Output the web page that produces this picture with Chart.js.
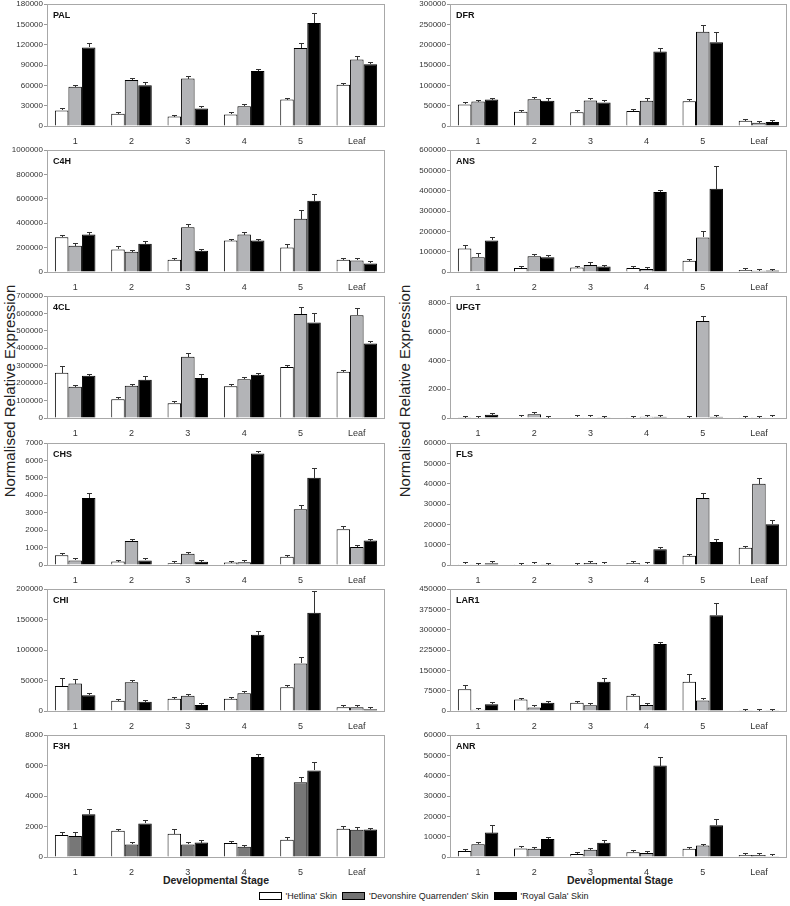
<!DOCTYPE html>
<html>
<head>
<meta charset="utf-8">
<script src="https://cdn.jsdelivr.net/npm/chart.js@4"></script>
<style>
  body { margin: 0; background: #fff; width: 790px; height: 906px; position: relative; overflow: hidden;
         font-family: "Liberation Sans", Arial, sans-serif; }
  canvas { position: absolute; }
  .ytitle { position: absolute; width: 260px; height: 18px; line-height: 18px; text-align: center;
            font-size: 15px; color: #222; transform: rotate(-90deg); white-space: nowrap; }
  .xtitle { position: absolute; width: 200px; text-align: center; font-size: 10.5px; font-weight: bold; color: #222; }
  .legend { position: absolute; top: 891px; left: 0; width: 842px; display: flex; justify-content: center;
            align-items: center; font-size: 9px; color: #222; }
  .legend span.box { display: inline-block; width: 21px; height: 6px; border: 1px solid #000; margin: 0 4px 0 5px; }
</style>
</head>
<body>

<div class="ytitle" style="left:-120px; top:382px;">Normalised Relative Expression</div>
<div class="ytitle" style="left:275px; top:382px;">Normalised Relative Expression</div>
<div class="xtitle" style="left:116px; top:874px;">Developmental Stage</div>
<div class="xtitle" style="left:520px; top:874px;">Developmental Stage</div>
<div class="legend">
  <span class="box" style="background:#fff"></span>'Hetlina' Skin
  <span class="box" style="background:#727272"></span>'Devonshire Quarrenden' Skin
  <span class="box" style="background:#000"></span>'Royal Gala' Skin
</div>

<script>
const stages = ['1', '2', '3', '4', '5', 'Leaf'];
const cultivars = ["'Hetlina' Skin", "'Devonshire Quarrenden' Skin", "'Royal Gala' Skin"];

// rows: Hetlina, Devonshire Quarrenden, Royal Gala
const palMean = [
  [23000, 18000, 14000, 17000, 39000, 61000],
  [58000, 68000, 70000, 29000, 115000, 98000],
  [116000, 60000, 26000, 81000, 152000, 91000]
];
const palErr = [
  [3500, 1000, 2000, 2500, 2000, 2500],
  [2500, 2500, 3500, 800, 7500, 6000],
  [7000, 5500, 3000, 2500, 15000, 3500]
];

const dfrMean = [
  [53000, 35000, 34000, 37000, 61000, 13000],
  [60000, 66000, 63000, 62000, 232000, 8000],
  [65000, 62000, 58000, 183000, 206000, 10000]
];
const dfrErr = [
  [7000, 2000, 5000, 2000, 3000, 500],
  [4000, 3000, 5000, 6000, 17000, 500],
  [5000, 6000, 5000, 8000, 24000, 500]
];

const c4hMean = [
  [285000, 185000, 100000, 258000, 200000, 100000],
  [215000, 165000, 367000, 307000, 437000, 95000],
  [307000, 232000, 175000, 258000, 585000, 70000]
];
const c4hErr = [
  [15000, 25000, 12000, 15000, 30000, 3000],
  [20000, 8000, 30000, 22000, 70000, 10000],
  [20000, 22000, 12000, 10000, 55000, 3000]
];

const ansMean = [
  [115000, 20000, 22000, 20000, 55000, 10000],
  [73000, 78000, 35000, 15000, 170000, 6000],
  [155000, 72000, 27000, 393000, 410000, 7000]
];
const ansErr = [
  [20000, 3000, 3000, 2000, 8000, 1000],
  [20000, 2000, 12000, 3000, 33000, 1000],
  [15000, 10000, 2000, 8000, 112000, 1000]
];

const c4lMean = [
  [260000, 108000, 85000, 182000, 293000, 265000],
  [180000, 185000, 352000, 222000, 597000, 590000],
  [242000, 220000, 230000, 248000, 548000, 428000]
];
const c4lErr = [
  [38000, 8000, 12000, 15000, 12000, 4000],
  [10000, 8000, 20000, 12000, 38000, 40000],
  [12000, 22000, 22000, 5000, 52000, 15000]
];

const ufgtMean = [
  [20, 40, 60, 10, 30, 10],
  [30, 260, 40, 90, 6750, 10],
  [230, 30, 15, 80, 80, 40]
];
const ufgtErr = [
  [5, 10, 10, 5, 5, 3],
  [5, 30, 10, 15, 350, 3],
  [40, 5, 5, 10, 10, 5]
];

const chsMean = [
  [560, 200, 100, 140, 480, 2050],
  [260, 1380, 650, 160, 3200, 1030],
  [3850, 260, 180, 6400, 5000, 1400]
];
const chsErr = [
  [80, 40, 20, 20, 40, 180],
  [30, 130, 30, 20, 220, 130],
  [300, 30, 50, 100, 570, 120]
];

const flsMean = [
  [400, 100, 200, 1000, 4500, 8500],
  [100, 300, 1000, 400, 33000, 40000],
  [900, 100, 300, 7800, 11300, 20000]
];
const flsErr = [
  [100, 50, 50, 200, 300, 400],
  [50, 100, 200, 50, 2500, 3000],
  [150, 50, 50, 300, 1500, 2300]
];

const chiMean = [
  [41000, 17000, 20000, 20000, 39000, 6000],
  [45000, 47000, 25000, 29000, 78000, 6000],
  [26000, 15000, 10000, 125000, 161000, 3000]
];
const chiErr = [
  [13000, 1000, 2000, 2500, 2500, 300],
  [7000, 3000, 1000, 3500, 11000, 300],
  [3000, 1500, 1000, 6000, 36000, 300]
];

const lar1Mean = [
  [80000, 42000, 30000, 56000, 108000, 1000],
  [5000, 13000, 21000, 22000, 39000, 500],
  [25000, 30000, 108000, 247000, 353000, 500]
];
const lar1Err = [
  [17000, 3000, 4000, 4000, 27000, 200],
  [1000, 1000, 2000, 3000, 3000, 100],
  [2000, 3000, 12000, 4000, 45000, 100]
];

const f3hMean = [
  [1450, 1720, 1530, 920, 1130, 1850],
  [1380, 820, 820, 680, 4900, 1780],
  [2800, 2200, 950, 6550, 5680, 1800]
];
const f3hErr = [
  [200, 120, 300, 120, 180, 170],
  [280, 150, 50, 80, 350, 170],
  [350, 250, 150, 180, 560, 100]
];

const anrMean = [
  [3000, 4200, 1500, 2300, 4000, 1000],
  [6300, 4100, 3600, 2000, 5600, 1000],
  [12000, 8800, 7000, 45000, 15600, 400]
];
const anrErr = [
  [300, 300, 300, 300, 300, 200],
  [400, 500, 500, 700, 400, 200],
  [3800, 800, 1200, 4000, 3200, 100]
];

// axis top and tick step of each panel; UFGT's frame runs a little past its last tick
const panels = [
  { gene: 'PAL',  mean: palMean,  err: palErr,  max: 180000,  step: 30000,  col: 0, row: 0 },
  { gene: 'DFR',  mean: dfrMean,  err: dfrErr,  max: 300000,  step: 50000,  col: 1, row: 0 },
  { gene: 'C4H',  mean: c4hMean,  err: c4hErr,  max: 1000000, step: 200000, col: 0, row: 1 },
  { gene: 'ANS',  mean: ansMean,  err: ansErr,  max: 600000,  step: 100000, col: 1, row: 1 },
  { gene: '4CL',  mean: c4lMean,  err: c4lErr,  max: 700000,  step: 100000, col: 0, row: 2 },
  { gene: 'UFGT', mean: ufgtMean, err: ufgtErr, max: 8500,    step: 2000,   col: 1, row: 2 },
  { gene: 'CHS',  mean: chsMean,  err: chsErr,  max: 7000,    step: 1000,   col: 0, row: 3 },
  { gene: 'FLS',  mean: flsMean,  err: flsErr,  max: 60000,   step: 10000,  col: 1, row: 3 },
  { gene: 'CHI',  mean: chiMean,  err: chiErr,  max: 200000,  step: 50000,  col: 0, row: 4 },
  { gene: 'LAR1', mean: lar1Mean, err: lar1Err, max: 450000,  step: 75000,  col: 1, row: 4 },
  { gene: 'F3H',  mean: f3hMean,  err: f3hErr,  max: 8000,    step: 2000,   col: 0, row: 5, darkGrey: true },
  { gene: 'ANR',  mean: anrMean,  err: anrErr,  max: 60000,   step: 10000,  col: 1, row: 5 }
];

const rowTops = [4, 150, 296, 443, 589, 735];
const plotH = 122;
const tickFont = { size: 8, family: '"Liberation Sans", Arial, sans-serif' };

// frame round the plot area, gene label, and upward error bars
const panelDecor = {
  id: 'panelDecor',
  afterDatasetsDraw(chart) {
    const { ctx, chartArea: a, scales: { y } } = chart;
    ctx.save();
    ctx.strokeStyle = '#333';
    ctx.lineWidth = 1;
    chart.data.datasets.forEach((ds, i) => {
      chart.getDatasetMeta(i).data.forEach((bar, j) => {
        const x = Math.round(bar.x) + 0.5;
        const base = Math.round(bar.y);
        // very small errors still show a short cap, as in the figure
        const top = Math.min(Math.round(y.getPixelForValue(ds.data[j] + ds.errors[j])), base - 2) + 0.5;
        ctx.beginPath();
        ctx.moveTo(x, base);
        ctx.lineTo(x, top);
        ctx.moveTo(x - 2.5, top);
        ctx.lineTo(x + 2.5, top);
        ctx.stroke();
      });
    });
    ctx.strokeStyle = '#a8a8a8';
    ctx.strokeRect(Math.round(a.left) + 0.5, Math.round(a.top) + 0.5,
                   Math.round(a.width) - 1, Math.round(a.height));
    ctx.fillStyle = '#111';
    ctx.font = 'bold 9px "Liberation Sans", Arial, sans-serif';
    ctx.textBaseline = 'middle';
    ctx.fillText(chart.options.plugins.panelDecor.gene, a.left + 6, a.top + 12);
    ctx.restore();
  }
};

panels.forEach(p => {
  const left = p.col === 0 ? 0 : 395;
  const width = p.col === 0 ? 390 : 395;
  const canvas = document.createElement('canvas');
  canvas.width = width;
  canvas.height = 6 + plotH + 18;
  canvas.style.left = left + 'px';
  canvas.style.top = (rowTops[p.row] - 6) + 'px';
  document.body.appendChild(canvas);

  const colours = ['#ffffff', p.darkGrey ? '#777777' : '#b3b4b7', '#000000'];

  new Chart(canvas, {
    type: 'bar',
    data: {
      labels: stages,
      datasets: cultivars.map((name, i) => ({
        label: name,
        data: p.mean[i],
        errors: p.err[i],
        backgroundColor: colours[i],
        borderColor: '#000',
        borderWidth: 1,
        categoryPercentage: 0.72,
        barPercentage: 1.0
      }))
    },
    options: {
      responsive: false,
      animation: false,
      layout: { padding: { top: 6, left: 0, right: p.col === 0 ? 5 : 3, bottom: 0 } },
      plugins: {
        legend: { display: false },
        tooltip: { enabled: false },
        panelDecor: { gene: p.gene }
      },
      scales: {
        x: {
          grid: { display: false },
          border: { display: false },
          ticks: { color: '#333', font: { size: 9, family: tickFont.family },
                   padding: 2, maxRotation: 0, autoSkip: false },
          afterFit: s => { s.height = 18; }
        },
        y: {
          min: 0,
          max: p.max,
          grid: { drawOnChartArea: false, tickLength: 3, color: '#999' },
          border: { display: false },
          ticks: { color: '#333', padding: 1, font: tickFont, callback: v => String(v) },
          afterBuildTicks: s => {
            const t = [];
            for (let v = 0; v <= p.max; v += p.step) t.push({ value: v });
            s.ticks = t;
          },
          afterFit: s => { s.width = p.col === 0 ? 47 : 55; }
        }
      }
    },
    plugins: [panelDecor]
  });
});
</script>
</body>
</html>
